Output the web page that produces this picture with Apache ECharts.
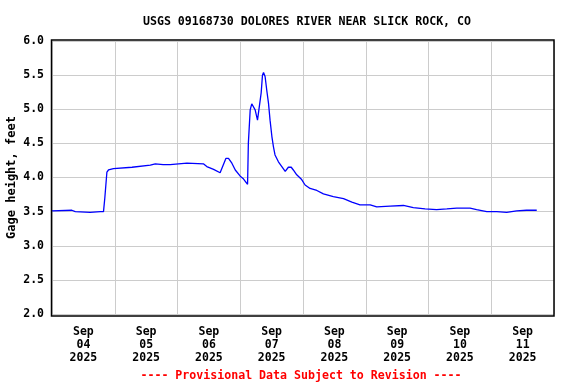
<!DOCTYPE html>
<html>
<head>
<meta charset="utf-8">
<script src="https://cdn.jsdelivr.net/npm/echarts@6/dist/echarts.min.js"></script>
<style>html,body{margin:0;padding:0;background:#fff}#chart{width:576px;height:384px}</style>
</head>
<body>
<div id="chart"></div>
<script>
const titleText = 'USGS 09168730 DOLORES RIVER NEAR SLICK ROCK, CO';
const yAxisName = 'Gage height, feet';
const footerText = '---- Provisional Data Subject to Revision ----';
const dayLabels = ['Sep\n04\n2025','Sep\n05\n2025','Sep\n06\n2025','Sep\n07\n2025','Sep\n08\n2025','Sep\n09\n2025','Sep\n10\n2025','Sep\n11\n2025'];
const xStart = '2025-09-04 00:00';
const xEnd = '2025-09-12 00:00';
const times = [
'2025-09-04 00:00','2025-09-04 07:36','2025-09-04 08:54','2025-09-04 14:36','2025-09-04 18:30','2025-09-04 19:42',
'2025-09-04 20:12','2025-09-04 21:00','2025-09-04 21:36','2025-09-04 23:30','2025-09-05 06:36','2025-09-05 13:36',
'2025-09-05 15:30','2025-09-05 18:30','2025-09-05 21:12','2025-09-06 03:36','2025-09-06 09:54','2025-09-06 11:12',
'2025-09-06 13:48','2025-09-06 16:18','2025-09-06 18:30','2025-09-06 19:30','2025-09-06 20:48','2025-09-06 22:06',
'2025-09-07 00:00','2025-09-07 01:12','2025-09-07 02:48','2025-09-07 03:06','2025-09-07 03:48','2025-09-07 04:24',
'2025-09-07 05:06','2025-09-07 05:42','2025-09-07 06:36','2025-09-07 07:12','2025-09-07 08:00','2025-09-07 08:30',
'2025-09-07 08:54','2025-09-07 09:30','2025-09-07 10:12','2025-09-07 10:48','2025-09-07 11:24','2025-09-07 12:06',
'2025-09-07 12:42','2025-09-07 13:18','2025-09-07 14:36','2025-09-07 15:54','2025-09-07 17:12','2025-09-07 18:24',
'2025-09-07 19:30','2025-09-07 20:18','2025-09-07 21:36','2025-09-07 23:30','2025-09-08 00:48','2025-09-08 02:42',
'2025-09-08 05:18','2025-09-08 07:48','2025-09-08 11:36','2025-09-08 15:30','2025-09-08 18:42','2025-09-08 21:48',
'2025-09-09 01:42','2025-09-09 04:12','2025-09-09 09:18','2025-09-09 14:24','2025-09-09 18:12','2025-09-09 18:54',
'2025-09-09 22:42','2025-09-10 03:06','2025-09-10 07:00','2025-09-10 10:48','2025-09-10 15:54','2025-09-10 18:24',
'2025-09-10 22:18','2025-09-11 02:06','2025-09-11 05:54','2025-09-11 09:42','2025-09-11 13:30','2025-09-11 17:24'
];
const gageHeight = [
3.51,3.52,3.50,3.49,3.50,3.50,
3.70,4.08,4.11,4.13,4.15,4.18,
4.20,4.19,4.19,4.21,4.20,4.16,
4.12,4.07,4.28,4.28,4.21,4.11,
4.02,3.98,3.90,4.50,4.99,5.08,
5.07,4.99,4.84,4.84,5.24,5.50,
5.54,5.48,5.26,5.09,4.84,4.60,
4.45,4.33,4.23,4.16,4.09,4.15,
4.15,4.11,4.04,3.97,3.89,3.84,
3.81,3.76,3.72,3.69,3.64,3.60,
3.60,3.57,3.58,3.59,3.56,3.55,
3.54,3.53,3.54,3.55,3.55,3.53,
3.50,3.50,3.49,3.51,3.52,3.52
];
const yMin = 2.0, yMax = 6.0, yStep = 0.5;

const FONT = '"DejaVu Sans Mono", "Liberation Mono", monospace';
const chart = echarts.init(document.getElementById('chart'), null, {renderer: 'canvas'});
chart.setOption({
  animation: false,
  backgroundColor: '#ffffff',
  title: {
    text: titleText, left: 302, top: 11, textAlign: 'center',
    textStyle: {fontFamily: FONT, fontWeight: 'bold', fontSize: 11.6, color: '#000'}
  },
  grid: {left: 52, right: 22, top: 41, bottom: 70, containLabel: false, outerBoundsMode: 'none'},
  xAxis: [
    {type: 'time', min: xStart, max: xEnd, show: false, splitLine: {show: false}},
    {type: 'category', data: dayLabels, boundaryGap: true, position: 'bottom',
     axisLine: {show: false}, axisTick: {show: false},
     splitLine: {show: true, lineStyle: {color: '#cccccc', width: 1}},
     axisLabel: {fontFamily: FONT, fontWeight: 'bold', fontSize: 11.5, color: '#000', lineHeight: 13, margin: 12, interval: 0}}
  ],
  yAxis: {
    type: 'value', min: yMin, max: yMax, interval: yStep,
    name: yAxisName, nameLocation: 'middle', nameGap: 34, nameRotate: 90, nameMoveOverlap: false,
    nameTextStyle: {fontFamily: FONT, fontWeight: 'bold', fontSize: 12, color: '#000'},
    axisLine: {show: false}, axisTick: {show: false},
    axisLabel: {fontFamily: FONT, fontWeight: 'bold', fontSize: 11.5, color: '#000', margin: 8,
                formatter: v => v.toFixed(1)},
    splitLine: {show: true, lineStyle: {color: '#cccccc', width: 1}}
  },
  series: [{
    type: 'line', xAxisIndex: 0, showSymbol: false, symbol: 'none',
    data: times.map((t, i) => [t, gageHeight[i]]),
    lineStyle: {color: '#0000ff', width: 1.3}, z: 5
  }],
  graphic: [
    {type: 'rect', shape: {x: 51.5, y: 40, width: 502.5, height: 276}, silent: true, z: 10,
     style: {fill: null, stroke: '#000', lineWidth: 1.5}},
    {type: 'text', x: 301, y: 375.5, silent: true,
     style: {text: footerText, fill: '#ff0000', font: 'bold 11.6px ' + FONT, textAlign: 'center', textVerticalAlign: 'middle'}}
  ]
});
</script>
</body>
</html>
